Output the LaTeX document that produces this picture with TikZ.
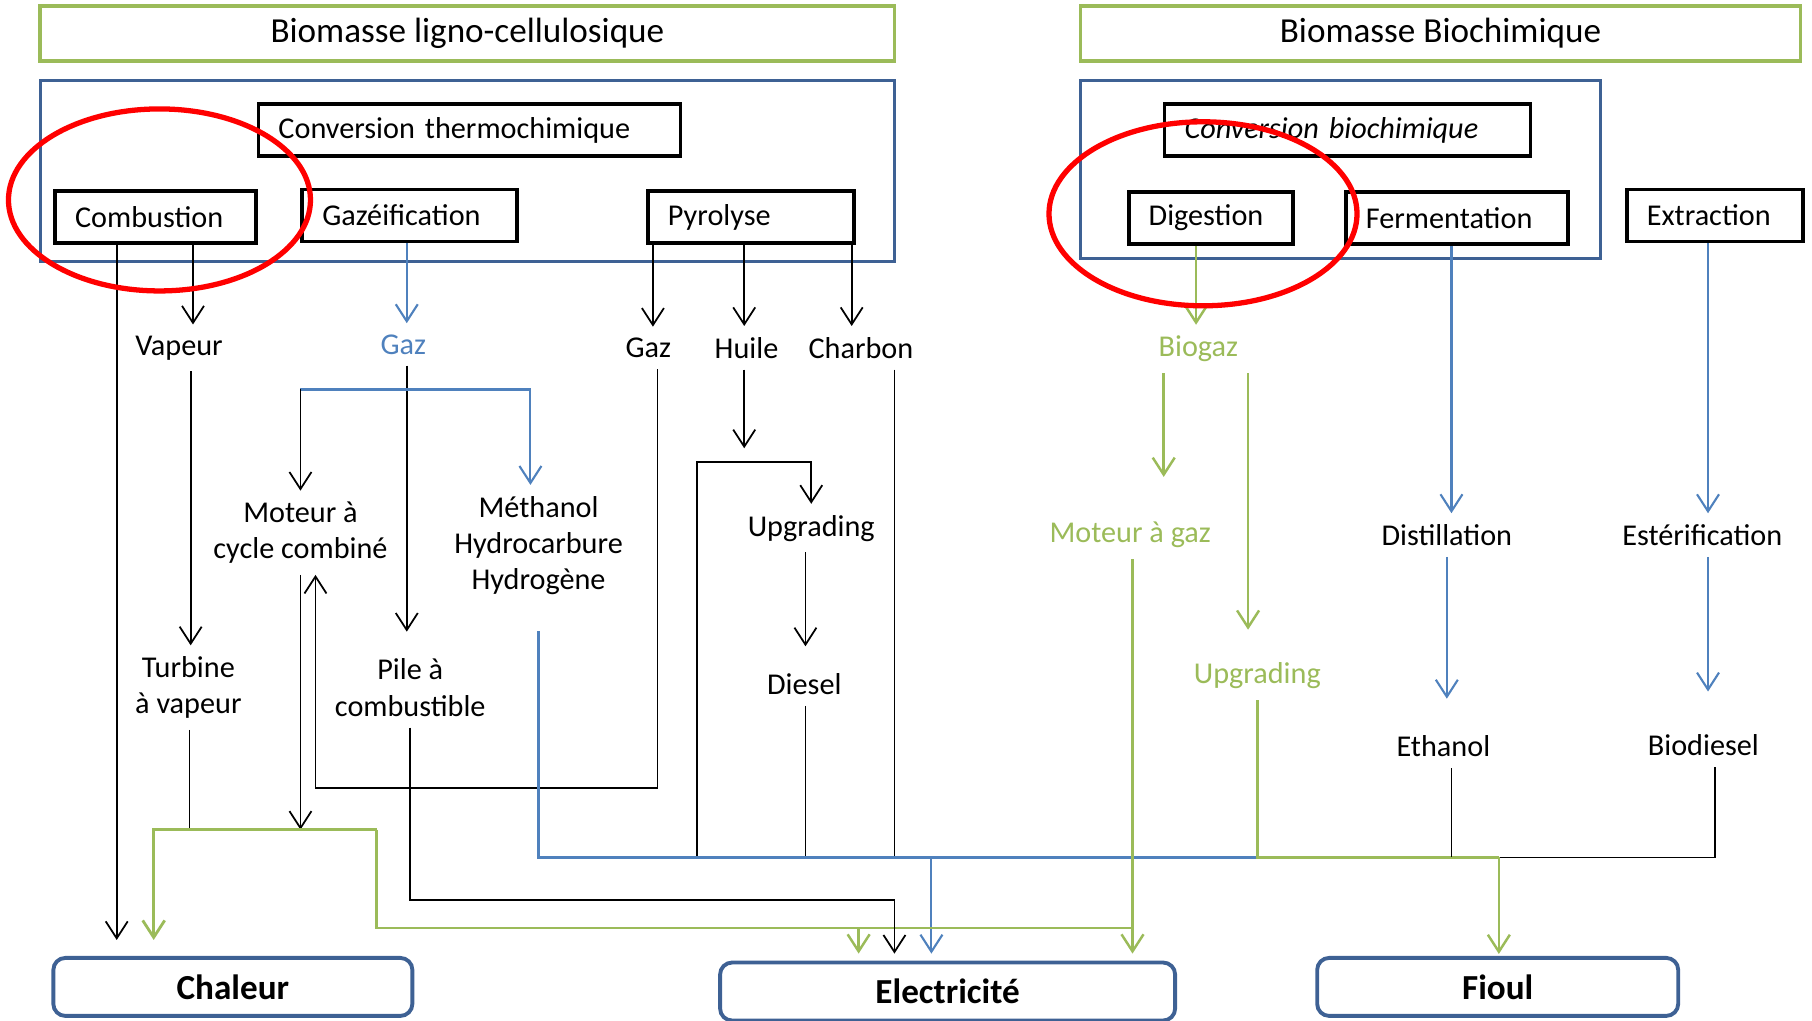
\documentclass[tikz,border=0pt]{standalone}
\usepackage{fontspec}
\setmainfont{Carlito}
\usetikzlibrary{arrows.meta}
\definecolor{leaf}{RGB}{155,187,89}
\definecolor{frame}{RGB}{62,97,148}
\definecolor{flow}{RGB}{79,129,189}

\begin{document}
\begin{tikzpicture}[x=0.11556mm, y=-0.11556mm,
  font=\fontsize{8.6}{10.3}\selectfont,
  >={Straight Barb[length=1.7mm,width=2.2mm]},
  source/.style={draw=leaf, line width=1.1pt, minimum height=5.5mm, font=\fontsize{10}{12}\selectfont},
  process/.style={draw, line width=1.1pt, minimum height=5.2mm, inner xsep=2mm, align=left, anchor=west},
  product/.style={align=center, inner sep=3pt},
  output/.style={draw=frame, line width=1.1pt, rounded corners=1.2mm, minimum height=5.8mm, font=\fontsize{10}{12}\selectfont\bfseries},
  wire/.style={line width=0.5pt},
  link/.style={->, line width=0.5pt},
  bluelink/.style={->, flow, line width=0.6pt},
  greenlink/.style={->, leaf, line width=0.7pt},
  ring/.style={red, line width=1.5pt}]
\useasboundingbox (0,0) rectangle (1568,883);

% biomass sources and conversion frames
\node[source, minimum width=85.4mm] (ligno) at (404.5,29) {Biomasse ligno-cellulosique};
\node[source, minimum width=72mm] (biochem) at (1246.5,29) {Biomasse Biochimique};
\draw[frame, line width=0.9pt] (35,70) rectangle (774,226) (935,70) rectangle (1385,224);

\node[process, text width=38.2mm] (thermo) at (222,112.5) {Conversion thermochimique};
\node[process, text width=16.1mm] (comb) at (46,188) {Combustion};
\node[process, text width=17.5mm] (gazeif) at (260,186.5) {Gazéification};
\node[process, text width=16.6mm] (pyro) at (559,188) {Pyrolyse};
\node[process, text width=32.6mm] (biochim) at (1006,112.5) {\itshape Conversion biochimique};
\node[process, text width=12.4mm] (dig) at (975,188.5) {Digestion};
\node[process, text width=18.2mm] (ferm) at (1163,188.5) {Fermentation};
\node[process, text width=13.6mm] (extr) at (1406,186.5) {Extraction};

% intermediate products
\node[product] (vap) at (155,301) {Vapeur};
\node[product, text=flow] (gazb) at (349,298) {Gaz};
\node[product] (gazp) at (561,301) {Gaz};
\node[product] (huile) at (646,301) {Huile};
\node[product] (charb) at (745,301) {Charbon};
\node[product, text=leaf] (biogaz) at (1037,302) {Biogaz};
\node[product] (moteur) at (260,461) {Moteur à\\cycle combiné};
\node[product] (meth) at (466,472) {Méthanol\\Hydrocarbure\\Hydrogène};
\node[product] (turb) at (163,595) {Turbine\\à vapeur};
\node[product] (pile) at (355,595) {Pile à\\combustible};
\node[product] (upg) at (702,457) {Upgrading};
\node[product] (diesel) at (696,592) {Diesel};
\node[product, text=leaf] (motgaz) at (978,463) {Moteur à gaz};
\node[product, text=leaf] (upgb) at (1088,585) {Upgrading};
\node[product] (dist) at (1252,463) {Distillation};
\node[product] (ester) at (1473,463) {Estérification};
\node[product] (eth) at (1249,646) {Ethanol};
\node[product] (biod) at (1474,645) {Biodiesel};

% final uses
\node[output, minimum width=35.9mm] (chal) at (201.5,854) {Chaleur};
\node[output, minimum width=45.5mm] (elec) at (820,858) {Electricité};
\node[output, minimum width=36.1mm] (fioul) at (1296,854) {Fioul};

\coordinate (split) at (352,337);
\coordinate (upsplit) at (644,400);
\coordinate (heat) at (133,718);
\coordinate (power) at (980,803);
\coordinate (bus) at (806,742);
\coordinate (fuel) at (1297,742);

% first stage
\draw[link] (167,0 |- comb.south) -- (167,0 |- vap.north);
\draw[link, shorten >=1.6mm] (101,0 |- comb.south) -- (101,0 |- chal.north);
\draw[bluelink] (352,0 |- gazeif.south) -- (352,0 |- gazb.north);
\draw[link] (565,0 |- pyro.south) -- (565,0 |- gazp.north);
\draw[link] (644,0 |- pyro.south) -- (644,0 |- huile.north);
\draw[link] (737,0 |- pyro.south) -- (737,0 |- charb.north);
\draw[greenlink] (1035,0 |- dig.south) -- (1035,0 |- biogaz.north);
\draw[bluelink] (1256,0 |- ferm.south) -- (1256,0 |- dist.north);
\draw[bluelink] (1478,0 |- extr.south) -- (1478,0 |- ester.north);

% thermochemical routes
\draw[link] (165,0 |- vap.south) -- (165,0 |- turb.north);
\draw[link, shorten >=1.6mm] (352,0 |- gazb.south) -- (352,0 |- pile.north);
\draw[bluelink] (260,0 |- split) -- (459,0 |- split) -- (459,0 |- meth.north);
\draw[link] (260,0 |- split) -- (260,0 |- moteur.north);
\draw[link] (569,0 |- gazp.south) -- (569,682) -- (273,682) -- (273,0 |- moteur.south);
\draw[link, shorten >=1.4mm] (644,0 |- huile.south) -- (upsplit);
\draw[link] (603,0 |- bus) -- (603,0 |- upsplit) -- (702,0 |- upsplit) -- (702,0 |- upg.north);
\draw[link, shorten >=1.6mm] (697,0 |- upg.south) -- (697,0 |- diesel.north);
\draw[wire] (697,0 |- diesel.south) -- (697,0 |- bus);
\draw[wire] (774,0 |- charb.south) -- (774,0 |- bus);
\draw[flow, line width=0.7pt] (466,0 |- meth.south) ++(0,22) -- (466,0 |- bus) -- (1088,0 |- bus);
\draw[bluelink, shorten >=0.7mm] (bus) -- (bus |- elec.north);

% heat and power
\draw[wire] (164,0 |- turb.south) -- (164,0 |- heat);
\draw[link] (260,0 |- moteur.south) -- (260,0 |- heat);
\draw[greenlink, line width=0.8pt, shorten >=1.6mm] (326,0 |- heat) -- (heat) -- (heat |- chal.north);
\draw[leaf, line width=0.8pt] (326,0 |- heat) -- (326,0 |- power) -- (power);
\draw[greenlink, shorten >=0.7mm] (743,0 |- power) -- (743,0 |- elec.north);
\draw[link, shorten >=0.7mm] (355,0 |- pile.south) -- (355,779) -- (774,779) -- (774,0 |- elec.north);
\draw[greenlink, shorten >=0.7mm] (980,0 |- motgaz.south) -- (power |- elec.north);

% biochemical routes
\draw[greenlink, shorten >=3.4mm] (1007,0 |- biogaz.south) -- (1007,0 |- motgaz.north);
\draw[greenlink, shorten >=2.2mm] (1080,0 |- biogaz.south) -- (1080,0 |- upgb.north);
\draw[bluelink, shorten >=2.6mm] (1252,0 |- dist.south) -- (1252,0 |- eth.north);
\draw[bluelink, shorten >=3.2mm] (1478,0 |- ester.south) -- (1478,0 |- biod.north);
\draw[leaf, line width=0.8pt] (1088,0 |- upgb.south) -- (1088,0 |- fuel) -- (fuel);
\draw[wire] (1256,0 |- eth.south) -- (1256,0 |- fuel);
\draw[wire] (1484,0 |- biod.south) -- (1484,0 |- fuel) -- (fuel);
\draw[greenlink, shorten >=0.2mm] (fuel) -- (fuel |- fioul.north);

% highlighted processes
\draw[ring] (138,173) ellipse [x radius=15.1mm, y radius=9.1mm];
\draw[ring] (1041,185) ellipse [x radius=15.4mm, y radius=9.2mm];
\end{tikzpicture}
\end{document}
